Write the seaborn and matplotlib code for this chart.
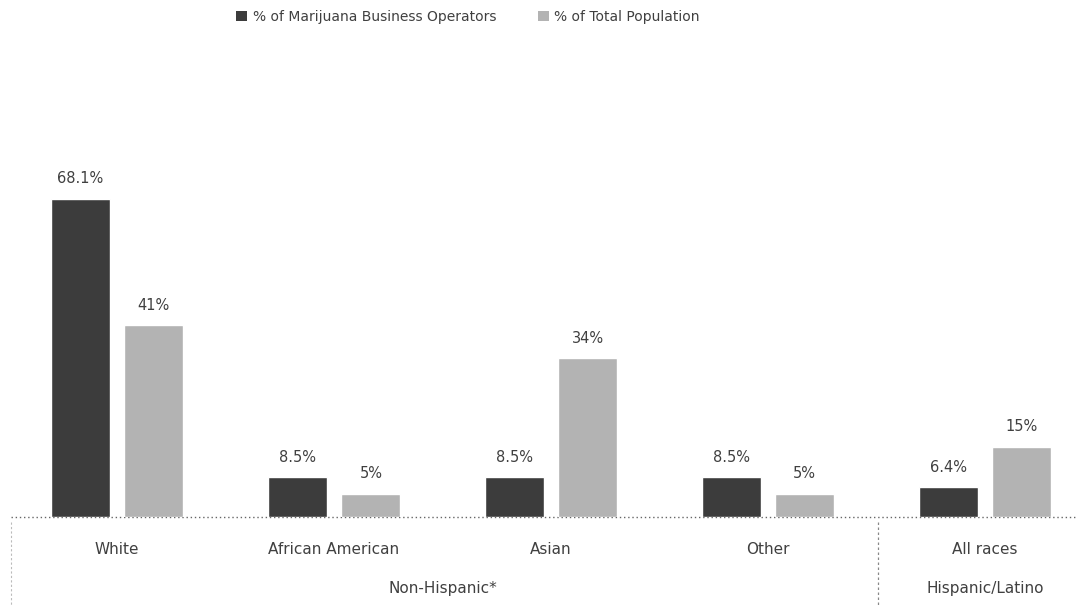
import matplotlib
matplotlib.use("Agg")
import matplotlib.pyplot as plt
import seaborn as sns
import pandas as pd
from matplotlib.patches import Patch
from matplotlib.transforms import blended_transform_factory

categories = ["White", "African American", "Asian", "Other", "All races"]
series_names = ["% of Marijuana Business Operators", "% of Total Population"]
operators = [68.1, 8.5, 8.5, 8.5, 6.4]
population = [41, 5, 34, 5, 15]
operator_labels = ["68.1%", "8.5%", "8.5%", "8.5%", "6.4%"]
population_labels = ["41%", "5%", "34%", "5%", "15%"]
group_labels = ["Non-Hispanic*", "Hispanic/Latino"]

df = pd.DataFrame({
    "category": categories * 2,
    "series": [series_names[0]] * len(categories) + [series_names[1]] * len(categories),
    "value": operators + population,
})

sns.set_theme(style="white")
plt.rcParams["font.family"] = ["DejaVu Sans"]
text_color = "#404040"
colors = ["#3c3c3c", "#b3b3b3"]

fig = plt.figure(figsize=(10.78, 6.05), dpi=100)
ax = fig.add_axes([0, 88 / 605, 1, 477 / 605])

sns.barplot(data=df, x="category", y="value", hue="series", order=categories,
            hue_order=series_names, palette=colors, width=0.68, gap=0.2,
            saturation=1, ax=ax, legend=False)

ax.set_xlim(-0.539, 4.429)
ax.set_ylim(0, 102.1)
for s in ax.spines.values():
    s.set_visible(False)
ax.set_yticks([])
ax.set_xlabel("")
ax.set_ylabel("")
ax.tick_params(axis="x", length=0, pad=18, labelsize=11, labelcolor=text_color)
ax.set_xticks(range(len(categories)))
ax.set_xticklabels(categories)

for cont, labs in zip(ax.containers, [operator_labels, population_labels]):
    ax.bar_label(cont, labels=labs, padding=9, fontsize=10.5, color=text_color)

trans = blended_transform_factory(ax.transAxes, ax.transData)
ax.plot([0.01, 0.997], [0, 0], transform=trans, color="#666666", lw=1.0,
        ls=(0, (1, 2)), zorder=0.5, clip_on=False)

trans2 = blended_transform_factory(ax.transData, ax.transAxes)
ax.text(1.5, -0.149, group_labels[0], transform=trans2, ha="center", va="center",
        fontsize=11, color=text_color)
ax.text(4.0, -0.149, group_labels[1], transform=trans2, ha="center", va="center",
        fontsize=11, color=text_color)
ax.plot([3.507, 3.507], [-0.01, -0.19], transform=trans2, color="#888888",
        lw=0.9, ls=(0, (2, 2)), clip_on=False)
ax.plot([-0.49, -0.49], [-0.01, -0.19], transform=trans2, color="#bbbbbb",
        lw=0.8, ls=(0, (2, 2)), clip_on=False)

handles = [Patch(facecolor=c, edgecolor="none") for c in colors]
fig.legend(handles, series_names, loc="center", bbox_to_anchor=(468 / 1078, 1 - 17 / 605),
           ncol=2, frameon=False, fontsize=10, handlelength=0.8, handleheight=0.8,
           handletextpad=0.4, columnspacing=3.0, labelcolor=text_color)

fig.savefig("out.png", dpi=100)
